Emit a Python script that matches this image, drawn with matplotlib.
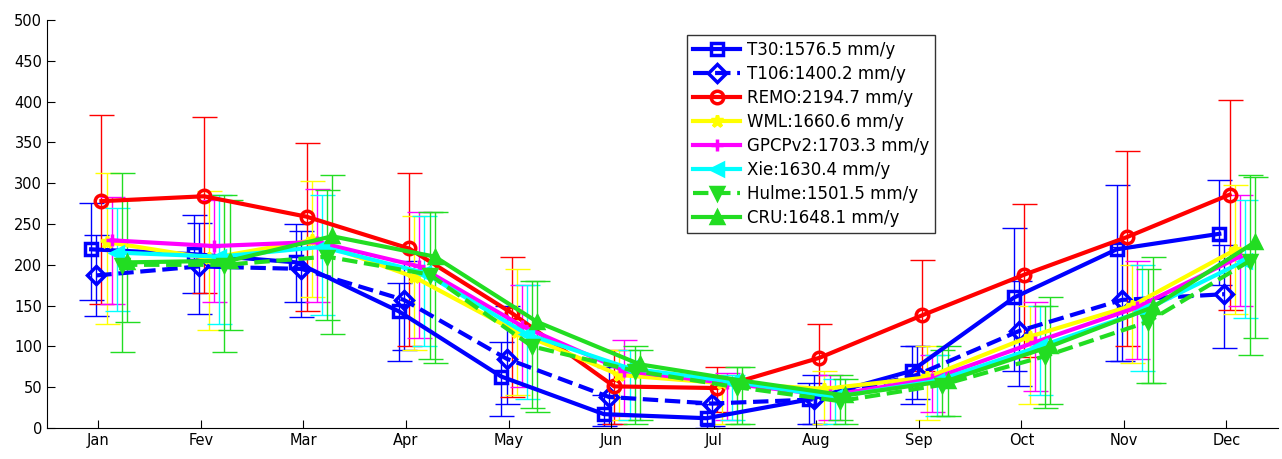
import numpy as np
import matplotlib.pyplot as plt

months = ['Jan', 'Fev', 'Mar', 'Apr', 'May', 'Jun', 'Jul', 'Aug', 'Sep', 'Oct', 'Nov', 'Dec']

names = ['T30:1576.5 mm/y', 'T106:1400.2 mm/y', 'REMO:2194.7 mm/y', 'WML:1660.6 mm/y',
         'GPCPv2:1703.3 mm/y', 'Xie:1630.4 mm/y', 'Hulme:1501.5 mm/y', 'CRU:1648.1 mm/y']

t30 = [219, 213, 203, 143, 63, 17, 12, 35, 70, 160, 219, 238]
t30_lo = [157, 165, 154, 82, 15, 2, 0, 5, 30, 70, 82, 175]
t30_hi = [276, 261, 250, 178, 105, 40, 30, 55, 100, 245, 298, 304]

t106 = [187, 198, 195, 157, 85, 38, 30, 35, 65, 119, 157, 164]
t106_lo = [137, 140, 136, 95, 30, 5, 2, 5, 35, 52, 82, 98]
t106_hi = [236, 251, 241, 205, 150, 75, 60, 65, 100, 180, 222, 224]

remo = [278, 284, 259, 220, 141, 51, 49, 86, 138, 188, 234, 286]
remo_lo = [152, 166, 143, 100, 38, 5, 20, 45, 70, 87, 100, 145]
remo_hi = [383, 381, 349, 312, 209, 95, 75, 128, 206, 274, 340, 402]

wml = [228, 208, 230, 185, 118, 65, 55, 48, 62, 112, 150, 218]
wml_lo = [127, 120, 160, 95, 40, 10, 5, 5, 10, 30, 80, 140]
wml_hi = [313, 290, 303, 260, 195, 95, 65, 70, 100, 150, 200, 298]

gpcp = [230, 223, 228, 198, 125, 70, 55, 40, 60, 105, 148, 210]
gpcp_lo = [152, 155, 155, 110, 50, 15, 10, 10, 20, 45, 85, 150]
gpcp_hi = [283, 280, 293, 265, 175, 108, 68, 65, 90, 155, 205, 285]

xie = [215, 210, 222, 190, 115, 73, 57, 38, 58, 100, 143, 205]
xie_lo = [143, 128, 138, 100, 35, 10, 10, 5, 15, 40, 70, 135]
xie_hi = [270, 285, 285, 260, 175, 95, 65, 60, 90, 150, 200, 280]

hulme = [200, 200, 210, 188, 100, 70, 50, 33, 53, 88, 130, 205]
hulme_lo = [93, 93, 132, 85, 25, 5, 5, 10, 15, 25, 55, 90]
hulme_hi = [313, 285, 292, 265, 180, 100, 75, 65, 95, 150, 195, 310]

cru = [203, 205, 235, 210, 130, 78, 58, 40, 58, 100, 148, 228]
cru_lo = [130, 120, 115, 80, 20, 10, 5, 5, 15, 30, 55, 110]
cru_hi = [280, 280, 310, 265, 180, 95, 75, 60, 100, 160, 210, 308]

series = [
    (t30, t30_lo, t30_hi, 'blue', '-', 's', 'none', -0.07),
    (t106, t106_lo, t106_hi, 'blue', '--', 'D', 'none', -0.02),
    (remo, remo_lo, remo_hi, 'red', '-', 'o', 'none', 0.03),
    (wml, wml_lo, wml_hi, 'yellow', '-', '*', 'yellow', 0.08),
    (gpcp, gpcp_lo, gpcp_hi, 'magenta', '-', '+', 'magenta', 0.13),
    (xie, xie_lo, xie_hi, 'cyan', '-', '<', 'cyan', 0.18),
    (hulme, hulme_lo, hulme_hi, '#22dd22', '--', 'v', '#22dd22', 0.23),
    (cru, cru_lo, cru_hi, '#22dd22', '-', '^', '#22dd22', 0.28),
]

fig = plt.figure(figsize=(12.82, 4.59), dpi=100)
ax = fig.add_axes([0.0367, 0.0675, 0.96, 0.8889])

x = np.arange(1, 13)
handles = []
for (vals, lo, hi, col, ls, mk, mfc, off) in series:
    vals = np.array(vals, dtype=float)
    err = [vals - np.array(lo), np.array(hi) - vals]
    ax.errorbar(x + off, vals, yerr=err, fmt='none', ecolor=col,
                elinewidth=1, capsize=9, capthick=1, zorder=1)
    h, = ax.plot(x + off, vals, color=col, linestyle=ls, linewidth=3,
                 marker=mk, markersize=9, markerfacecolor=mfc,
                 markeredgecolor=col, markeredgewidth=2.5, zorder=2)
    handles.append(h)

ax.set_xlim(0.5, 12.5)
ax.set_ylim(0, 500)
ax.set_xticks(x)
ax.set_xticklabels(months)
ax.set_yticks(np.arange(0, 501, 50))
ax.spines['top'].set_visible(False)
ax.spines['right'].set_visible(False)
ax.tick_params(direction='in', length=6, labelsize=10.5)

leg = ax.legend(handles, names, loc='upper left', bbox_to_anchor=(679 / 1282, 1 - 27 / 459),
                bbox_transform=fig.transFigure, fontsize=12, frameon=True, fancybox=False,
                edgecolor='black', handlelength=2.8, labelspacing=0.36, borderpad=0.35,
                handletextpad=0.4)
leg.get_frame().set_linewidth(1)

fig.savefig('out.png', dpi=100)
